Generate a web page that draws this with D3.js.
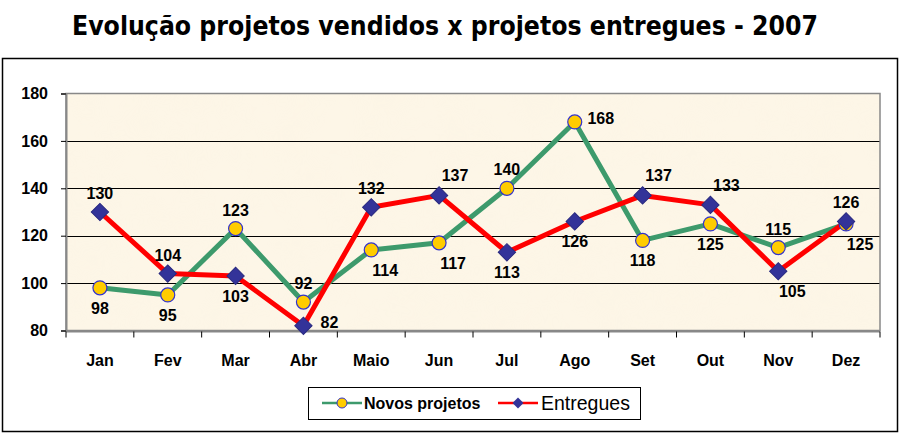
<!DOCTYPE html>
<html>
<head>
<meta charset="utf-8">
<script src="https://cdn.jsdelivr.net/npm/d3@7"></script>
<style>
  body { margin: 0; background: #ffffff; }
  svg { display: block; }
  .lbl { font-family: "Liberation Sans", Arial, sans-serif; font-weight: bold; font-size: 16px; fill: #000; }
</style>
</head>
<body>
<div id="chart"></div>
<script>
// dados
var meses = ['Jan', 'Fev', 'Mar', 'Abr', 'Maio', 'Jun', 'Jul', 'Ago', 'Set', 'Out', 'Nov', 'Dez']
var novosProjetos = [98, 95, 123, 92, 114, 117, 140, 168, 118, 125, 115, 125]
var entregues = [130, 104, 103, 82, 132, 137, 113, 126, 137, 133, 105, 126]
var yTicks = [80, 100, 120, 140, 160, 180]

// onde fica cada rótulo (layout, não dado)
var posNovos = ['below', 'below', 'above', 'above', 'belowRight', 'belowRight', 'above', 'right', 'below', 'below', 'above', 'belowRight']
var posEntregues = ['above', 'above', 'below', 'right', 'above', 'aboveRight', 'below', 'below', 'aboveRight', 'aboveRight', 'belowRight', 'above']

var W = 903, H = 436,
    plotL = 66, plotR = 880, plotT = 93.5, plotB = 330.5

var svg = d3.select('#chart').append('svg').attr('width', W).attr('height', H)

svg.append('rect').attr('x', 0).attr('y', 0).attr('width', W).attr('height', H).attr('fill', '#ffffff')

// título
svg.append('text')
    .attr('x', 445).attr('y', 35)
    .attr('text-anchor', 'middle')
    .attr('textLength', 746)
    .attr('lengthAdjust', 'spacingAndGlyphs')
    .style('font-family', '"DejaVu Sans", Verdana, sans-serif')
    .style('font-weight', 'bold')
    .style('font-size', '27px')
    .text('Evolução projetos vendidos x projetos entregues - 2007')

// moldura
svg.append('rect')
    .attr('x', 2.5).attr('y', 58.5).attr('width', 895).attr('height', 373)
    .attr('fill', 'none').attr('stroke', '#000').attr('stroke-width', 1.5)

var x = d3.scaleBand().domain(meses).range([plotL, plotR])
var y = d3.scaleLinear().domain([80, 180]).range([plotB, plotT])

// textura de pergaminho
var defs = svg.append('defs')
var filt = defs.append('filter').attr('id', 'paper').attr('x', 0).attr('y', 0).attr('width', 1).attr('height', 1)
filt.append('feTurbulence').attr('type', 'fractalNoise').attr('baseFrequency', 0.025).attr('numOctaves', 3).attr('seed', 4).attr('result', 'noise')
filt.append('feColorMatrix').attr('in', 'noise').attr('type', 'matrix')
    .attr('values', '0 0 0 0 0.93  0 0 0 0 0.86  0 0 0 0 0.72  0 0 0 0.4 -0.1')
    .attr('result', 'tint')
filt.append('feComposite').attr('in', 'tint').attr('in2', 'SourceGraphic').attr('operator', 'in')

svg.append('rect')
    .attr('x', plotL).attr('y', plotT).attr('width', plotR - plotL).attr('height', plotB - plotT)
    .attr('fill', '#fdf6e7')
svg.append('rect')
    .attr('x', plotL).attr('y', plotT).attr('width', plotR - plotL).attr('height', plotB - plotT)
    .attr('fill', '#fdf6e7')
    .attr('filter', 'url(#paper)')
    .attr('opacity', 0.35)

// grade
svg.append('g')
    .selectAll('line')
    .data(yTicks.filter(function (d) { return d > 80 && d < 180 }))
    .enter()
    .append('line')
    .attr('x1', plotL).attr('x2', plotR)
    .attr('y1', function (d) { return Math.round(y(d)) + 0.5 })
    .attr('y2', function (d) { return Math.round(y(d)) + 0.5 })
    .attr('stroke', '#000').attr('stroke-width', 1)

// borda da área
svg.append('rect')
    .attr('x', plotL).attr('y', plotT).attr('width', plotR - plotL).attr('height', plotB - plotT)
    .attr('fill', 'none').attr('stroke', '#888').attr('stroke-width', 1.5)

// eixo y
var yAxis = svg.append('g')
    .attr('transform', 'translate(' + plotL + ',0)')
    .call(d3.axisLeft(y).tickValues(yTicks).tickSize(5).tickPadding(13))
yAxis.select('.domain').attr('stroke', '#888').attr('stroke-width', 2)
yAxis.selectAll('.tick line').attr('stroke', '#000')
yAxis.selectAll('text')
    .style('font-family', '"Liberation Sans", Arial, sans-serif')
    .style('font-weight', 'bold').style('font-size', '16px').attr('fill', '#000')

// eixo x (ticks entre as categorias)
var xBounds = meses.map(function (m) { return x(m) }).concat([plotR])
svg.append('line')
    .attr('x1', plotL).attr('x2', plotR).attr('y1', plotB + 1).attr('y2', plotB + 1)
    .attr('stroke', '#888').attr('stroke-width', 2)
svg.append('g').selectAll('line')
    .data(xBounds)
    .enter().append('line')
    .attr('x1', function (d) { return d }).attr('x2', function (d) { return d })
    .attr('y1', plotB + 1).attr('y2', plotB + 7)
    .attr('stroke', '#000')
svg.append('g').selectAll('text')
    .data(meses)
    .enter().append('text')
    .attr('class', 'lbl')
    .attr('x', function (d) { return x(d) + x.bandwidth() / 2 })
    .attr('y', 366)
    .attr('text-anchor', 'middle')
    .text(function (d) { return d })

var cx = function (d, i) { return x(meses[i]) + x.bandwidth() / 2 }
var line = d3.line().x(function (d, i) { return cx(d, i) }).y(function (d) { return y(d) })

// linhas
svg.append('path').datum(novosProjetos)
    .attr('d', line).attr('fill', 'none')
    .attr('stroke', '#3d9a6c').attr('stroke-width', 5).attr('stroke-linejoin', 'round')
svg.append('path').datum(entregues)
    .attr('d', line).attr('fill', 'none')
    .attr('stroke', '#ff0000').attr('stroke-width', 5).attr('stroke-linejoin', 'round')

// marcadores
svg.append('g').selectAll('circle')
    .data(novosProjetos)
    .enter().append('circle')
    .attr('cx', cx).attr('cy', function (d) { return y(d) })
    .attr('r', 7)
    .attr('fill', '#ffcc00').attr('stroke', '#3333cc').attr('stroke-width', 1.2)

var diamond = d3.symbol().type(d3.symbolSquare).size(150)
svg.append('g').selectAll('path')
    .data(entregues)
    .enter().append('path')
    .attr('d', diamond)
    .attr('transform', function (d, i) { return 'translate(' + cx(d, i) + ',' + y(d) + ') rotate(45)' })
    .attr('fill', '#333399').attr('stroke', '#2a2a80').attr('stroke-width', 1)

// rótulos
var offsets = {
    above: [0, -13],
    below: [0, 26],
    right: [26, 2],
    aboveRight: [16, -14],
    belowRight: [14, 26]
}
function addLabels(values, pos) {
    svg.append('g').selectAll('text')
        .data(values)
        .enter().append('text')
        .attr('class', 'lbl')
        .attr('text-anchor', 'middle')
        .attr('x', function (d, i) { return cx(d, i) + offsets[pos[i]][0] })
        .attr('y', function (d, i) { return y(d) + offsets[pos[i]][1] })
        .text(function (d) { return d })
}
addLabels(novosProjetos, posNovos)
addLabels(entregues, posEntregues)

// legenda
var leg = svg.append('g')
leg.append('rect')
    .attr('x', 308.5).attr('y', 387.5).attr('width', 332).attr('height', 32)
    .attr('fill', '#fff').attr('stroke', '#000').attr('stroke-width', 1)
leg.append('line').attr('x1', 322).attr('x2', 362).attr('y1', 403).attr('y2', 403)
    .attr('stroke', '#3d9a6c').attr('stroke-width', 2.5)
leg.append('circle').attr('cx', 342).attr('cy', 403).attr('r', 5)
    .attr('fill', '#ffcc00').attr('stroke', '#3333cc').attr('stroke-width', 1)
leg.append('text').attr('x', 364).attr('y', 409)
    .style('font-family', '"Liberation Sans", Arial, sans-serif')
    .style('font-weight', 'bold').style('font-size', '16px')
    .text('Novos projetos')
leg.append('line').attr('x1', 498).attr('x2', 538).attr('y1', 403).attr('y2', 403)
    .attr('stroke', '#ff0000').attr('stroke-width', 2.5)
leg.append('path').attr('d', d3.symbol().type(d3.symbolSquare).size(60))
    .attr('transform', 'translate(518,403) rotate(45)')
    .attr('fill', '#333399')
leg.append('text').attr('x', 541).attr('y', 410)
    .style('font-family', '"Liberation Sans", Arial, sans-serif')
    .style('font-size', '19.5px')
    .text('Entregues')
</script>
</body>
</html>
